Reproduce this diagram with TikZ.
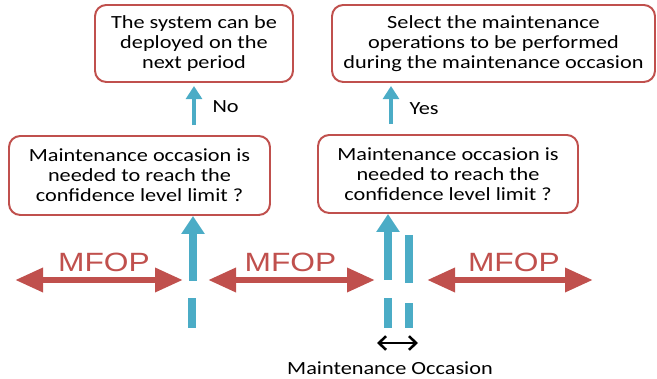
\documentclass[tikz,border=0pt]{standalone}
\usepackage{fontspec}
\usetikzlibrary{
    arrows.meta,
    positioning,
    calc
}
\newfontfamily\boxfont[FakeStretch=1.2]{Carlito}
\newfontfamily\mfopfont[FakeStretch=1.2]{Liberation Sans}
\definecolor{boxcol}{HTML}{C0504D}
\definecolor{mfopcol}{HTML}{C0504D}
\definecolor{cutcol}{HTML}{4BACC6}

\begin{document}
\begin{tikzpicture}[
    font=\boxfont\fontsize{13.2}{14.2}\selectfont,
    % ── Node Styles ──
    qbox/.style={
        draw=boxcol, line width=1.4pt, rounded corners=8pt,
        fill=white, align=center, inner sep=2pt,
        minimum height=1.925cm
    },
    lbl/.style={inner sep=1pt, text=black},
    mfoplbl/.style={
        font=\mfopfont\fontsize{18.8}{20}\selectfont,
        text=mfopcol, inner sep=0pt
    },
    % ── Arrow Styles ──
    smallup/.style={-{Triangle[width=0.4cm, length=0.33cm]}, line width=0.12cm, cutcol},
    bigup/.style={-{Triangle[width=0.56cm, length=0.45cm]}, line width=0.2cm, cutcol},
    cutbar/.style={line width=0.2cm, cutcol},
    mfoparr/.style={{Triangle[width=0.575cm, length=0.7cm]}-{Triangle[width=0.575cm, length=0.7cm]},
        line width=0.16cm, mfopcol},
    occarr/.style={{Straight Barb[length=0.18cm, width=0.34cm]}-{Straight Barb[length=0.18cm, width=0.34cm]},
        line width=1.8pt},
]
\useasboundingbox (0, 0) rectangle (16.425, 9.475);

% ────────────────────────────────
%  OUTCOMES (top row)
% ────────────────────────────────
\node[qbox, minimum width=4.95cm] (deploy) at (4.85, 8.3875) {
    The system can be\\deployed on the\\next period
};
\node[qbox, minimum width=8.075cm] (select) at (12.3375, 8.3875) {
    Select the maintenance\\operations to be performed\\during the maintenance occasion
};

% ────────────────────────────────
%  QUESTIONS (middle row)
% ────────────────────────────────
\node[qbox, minimum width=6.525cm, minimum height=1.975cm] (askL) at (3.4875, 5.0875) {
    Maintenance occasion is\\needed to reach the\\confidence level limit ?
};
\node[qbox, minimum width=6.5cm, minimum height=1.95cm] (askR) at (11.2, 5.125) {
    Maintenance occasion is\\needed to reach the\\confidence level limit ?
};

% Answer arrows
\draw[smallup, shorten <=0.25cm, shorten >=0.075cm]
    (askL.north -| deploy.south) -- (deploy.south)
    node[midway, right=0.37cm, lbl, yshift=0.05cm] (no) {No};
\draw[smallup, shorten <=0.25cm, shorten >=0.075cm]
    ([xshift=-1.425cm]askR.north) -- ([xshift=-1.425cm]askR.north |- select.south)
    node[midway, right=0.37cm, lbl] (yes) {Yes};

% ────────────────────────────────
%  TIME LINE (bottom)
% ────────────────────────────────
\coordinate (west)  at (0.375, 2.475);
\coordinate (east)  at (14.825, 2.475);
\coordinate (cutL)  at (4.825, 2.45);
\coordinate (cutM)  at (9.7, 2.475);
\coordinate (cutN)  at (10.225, 2.4);
\coordinate (baseL) at (4.8, 1.275);
\coordinate (baseM) at (9.7, 1.275);
\coordinate (baseN) at (10.225, 1.275);

% ── Cuts ──
\draw[bigup] (cutL) -- (cutL |- askL.south);
\draw[bigup] (cutM) -- (cutM |- askR.south);
\draw[cutbar] (cutN) -- ++(0, 1.2);
\draw[cutbar] (baseL) -- ++(0, 0.75);
\draw[cutbar] (baseM) -- ++(0, 0.75);
\draw[cutbar] (baseN) -- ++(0, 0.625);

% ── MFOP periods ──
\draw[mfoparr, shorten >=0.25cm] (west) -- (west -| cutL)
    node[midway, anchor=base, yshift=0.2cm, mfoplbl] (mfop1) {MFOP};
\draw[mfoparr, shorten <=0.375cm, shorten >=0.325cm] (cutL |- west) -- (cutM |- west)
    node[midway, anchor=base, yshift=0.2cm, mfoplbl] (mfop2) {MFOP};
\draw[mfoparr, shorten <=0.45cm] (cutN |- east) -- (east)
    node[pos=0.57, anchor=base, yshift=0.2cm, mfoplbl] (mfop3) {MFOP};

% ── Maintenance occasion ──
\coordinate (occW) at ([shift={(-0.275, -0.375)}]baseM);
\coordinate (occE) at ([shift={(0.225, -0.375)}]baseN);
\draw[occarr] (occW) -- (occE);
\node[lbl, anchor=base] (occ) at (9.75, 0.1) {Maintenance Occasion};

\end{tikzpicture}
\end{document}
